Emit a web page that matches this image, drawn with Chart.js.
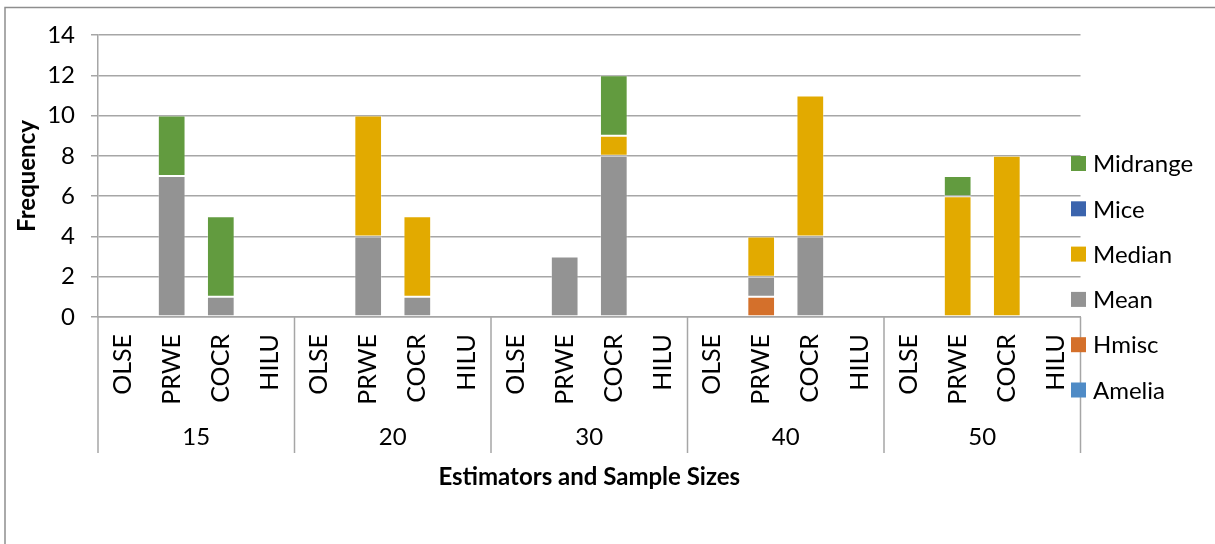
<!DOCTYPE html>
<html>
<head>
<meta charset="utf-8">
<script src="https://cdn.jsdelivr.net/npm/chart.js@4"></script>
<style>
  html, body { margin: 0; padding: 0; background: #ffffff; }
  #wrap { width: 1215px; height: 544px; position: relative; }
</style>
</head>
<body>
<div id="wrap"><canvas id="c" width="1215" height="544"></canvas></div>
<script>
// Sample sizes (outer groups) and estimators (inner categories)
const sampleSizes = ['15', '20', '30', '40', '50'];
const estimators = ['OLSE', 'PRWE', 'COCR', 'HILU'];
const yTicks = [0, 2, 4, 6, 8, 10, 12, 14];

// Frequencies per estimator, sample size by sample size
const amelia   = [0,0,0,0, 0,0,0,0, 0,0,0,0, 0,0,0,0, 0,0,0,0];
const hmisc    = [0,0,0,0, 0,0,0,0, 0,0,0,0, 0,1,0,0, 0,0,0,0];
const mean     = [0,7,1,0, 0,4,1,0, 0,3,8,0, 0,1,4,0, 0,0,0,0];
const median   = [0,0,0,0, 0,6,4,0, 0,0,1,0, 0,2,7,0, 0,6,8,0];
const mice     = [0,0,0,0, 0,0,0,0, 0,0,0,0, 0,0,0,0, 0,0,0,0];
const midrange = [0,3,4,0, 0,0,0,0, 0,0,3,0, 0,0,0,0, 0,1,0,0];

const FONT = 'Lato';
const labels = [];
sampleSizes.forEach(() => estimators.forEach(e => labels.push(e)));

const series = [
  { label: 'Amelia',   data: amelia,   color: '#4F8BC6' },
  { label: 'Hmisc',    data: hmisc,    color: '#D4702B' },
  { label: 'Mean',     data: mean,     color: '#939393' },
  { label: 'Median',   data: median,   color: '#E2AA00' },
  { label: 'Mice',     data: mice,     color: '#3B64AD' },
  { label: 'Midrange', data: midrange, color: '#629B3F' }
];

// Group separators, group labels, axis titles, frame and legend
const decor = {
  id: 'decor',
  afterDraw(chart) {
    const ctx = chart.ctx;
    const xs = chart.scales.x;
    const area = chart.chartArea;
    ctx.save();

    // outer frame
    ctx.strokeStyle = '#8e8e8e';
    ctx.lineWidth = 1.5;
    ctx.beginPath();
    ctx.moveTo(5, 544);
    ctx.lineTo(5, 7.5);
    ctx.lineTo(1215, 7.5);
    ctx.stroke();

    // separators between sample-size groups
    const half = (xs.getPixelForValue(1) - xs.getPixelForValue(0)) / 2;
    ctx.strokeStyle = '#a6a6a6';
    ctx.lineWidth = 1.5;
    for (let g = 0; g <= sampleSizes.length; g++) {
      const px = g === 0
        ? xs.getPixelForValue(0) - half
        : xs.getPixelForValue(g * estimators.length - 1) + half;
      ctx.beginPath();
      ctx.moveTo(px, area.bottom);
      ctx.lineTo(px, 453);
      ctx.stroke();
    }

    // sample-size labels
    ctx.fillStyle = '#000000';
    ctx.font = `24px ${FONT}`;
    ctx.textAlign = 'center';
    ctx.textBaseline = 'middle';
    sampleSizes.forEach((s, g) => {
      const a = xs.getPixelForValue(g * estimators.length);
      const b = xs.getPixelForValue(g * estimators.length + estimators.length - 1);
      ctx.fillText(s, (a + b) / 2, 437);
    });

    // axis titles
    ctx.font = `bold 24px ${FONT}`;
    ctx.fillText('Estimators and Sample Sizes', (area.left + area.right) / 2, 477);
    ctx.save();
    ctx.translate(27, (area.top + area.bottom) / 2);
    ctx.rotate(-Math.PI / 2);
    ctx.fillText('Frequency', 0, 0);
    ctx.restore();

    // legend, top series first
    ctx.font = `24px ${FONT}`;
    ctx.textAlign = 'left';
    const ds = chart.data.datasets.slice().reverse();
    ds.forEach((d, i) => {
      const cy = 163.5 + i * 45.3;
      ctx.fillStyle = d.backgroundColor;
      ctx.fillRect(1071, cy - 7.5, 15, 15);
      ctx.fillStyle = '#000000';
      ctx.fillText(d.label, 1093, cy + 1);
    });

    ctx.restore();
  }
};

new Chart(document.getElementById('c'), {
  type: 'bar',
  data: {
    labels: labels,
    datasets: series.map(s => ({
      label: s.label,
      data: s.data,
      backgroundColor: s.color,
      borderColor: 'rgba(255,255,255,0.3)',
      borderWidth: 1,
      borderSkipped: false,
      barPercentage: 0.564,
      categoryPercentage: 1.0
    }))
  },
  options: {
    responsive: false,
    animation: false,
    layout: { padding: { left: 0, right: 134.5, top: 35, bottom: 0 } },
    plugins: {
      legend: { display: false },
      tooltip: { enabled: false },
      title: { display: false }
    },
    scales: {
      x: {
        stacked: true,
        afterFit: s => { s.height = 544 - 317; },
        grid: { display: false, drawTicks: false },
        border: { display: true, color: '#a6a6a6', width: 1.5 },
        ticks: {
          autoSkip: false,
          minRotation: 90,
          maxRotation: 90,
          padding: 17,
          color: '#000000',
          font: { family: FONT, size: 25 }
        }
      },
      y: {
        stacked: true,
        min: 0,
        max: 14,
        afterFit: s => { s.width = 98; },
        afterBuildTicks: s => { s.ticks = yTicks.map(v => ({ value: v })); },
        grid: { color: '#a6a6a6', lineWidth: 1.5, tickLength: 7 },
        border: { display: true, color: '#a6a6a6', width: 1.5 },
        ticks: {
          padding: 16,
          color: '#000000',
          font: { family: FONT, size: 24 }
        }
      }
    }
  },
  plugins: [decor]
});
</script>
</body>
</html>
